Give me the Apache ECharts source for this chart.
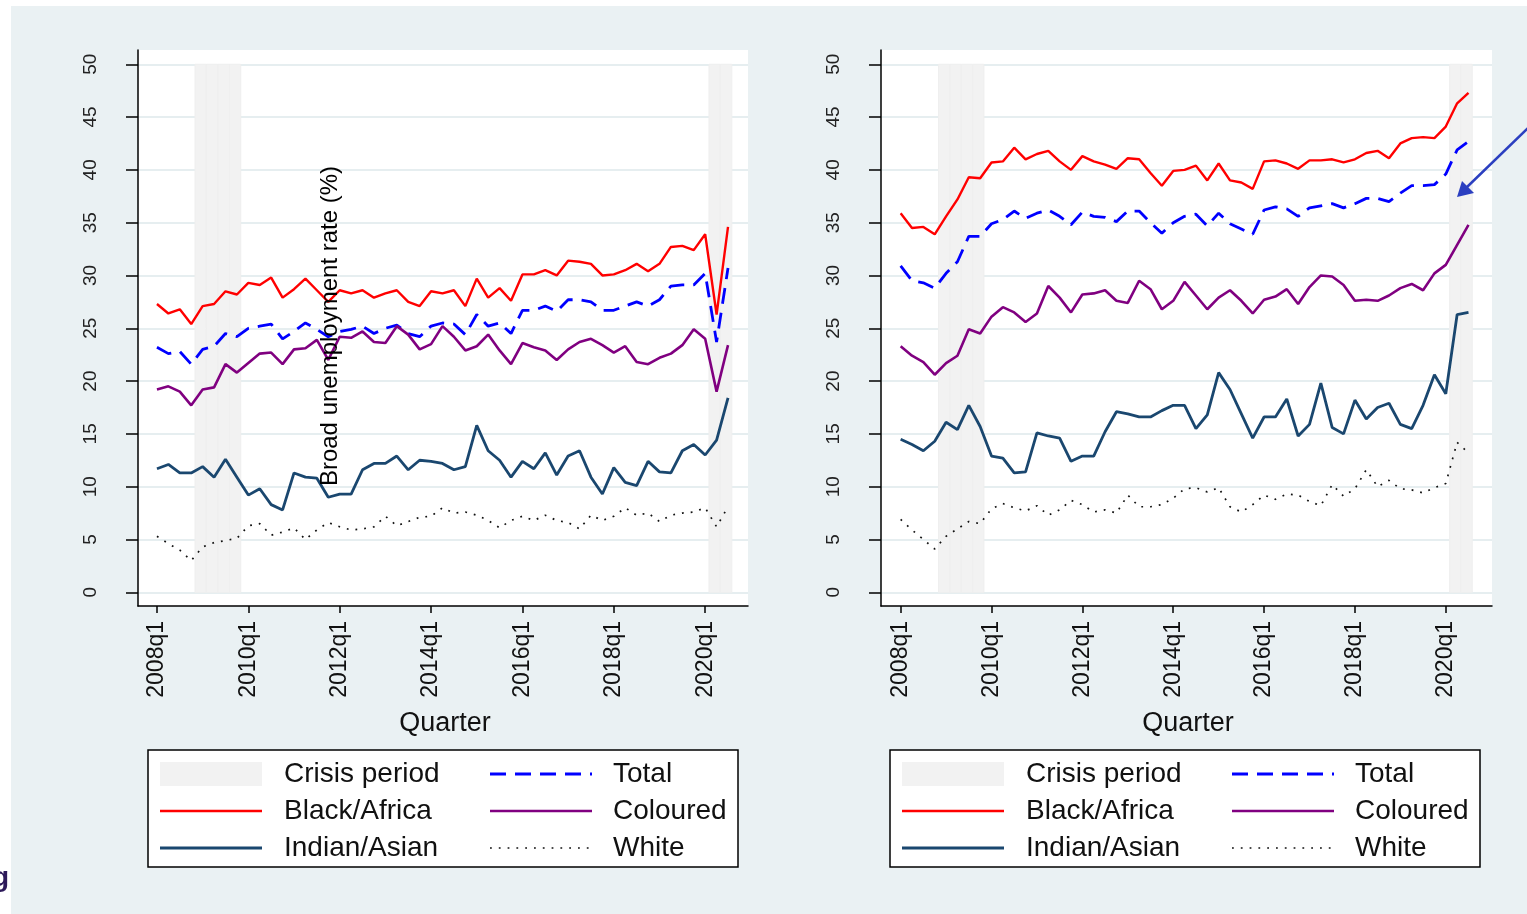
<!DOCTYPE html>
<html>
<head>
<meta charset="utf-8">
<script src="https://cdn.jsdelivr.net/npm/echarts@6/dist/echarts.min.js"></script>
<style>
  html, body { margin: 0; padding: 0; background: #fff; }
  #chart { width: 1527px; height: 914px; }
</style>
</head>
<body>
<div id="chart"></div>
<script>
// quarters 2008q1 .. 2020q3
var quarters = [];
for (var yr = 2008; yr <= 2020; yr++) {
    for (var q = 1; q <= 4; q++) quarters.push(yr + 'q' + q);
}
quarters = quarters.slice(0, 51);

var xTickIdx = [0, 8, 16, 24, 32, 40, 48];
var yTicks = [0, 5, 10, 15, 20, 25, 30, 35, 40, 45, 50];
var crisisQuarters = [3, 4, 5, 6, 48, 49];

// left panel
var blackL = [27.3,26.4,26.8,25.4,27.1,27.3,28.5,28.2,29.3,29.1,29.8,27.9,28.7,29.7,28.6,27.5,28.6,28.3,28.6,27.9,28.3,28.6,27.5,27.1,28.5,28.3,28.6,27.1,29.7,27.9,28.8,27.6,30.1,30.1,30.5,30.0,31.4,31.3,31.1,30.0,30.1,30.5,31.1,30.4,31.1,32.7,32.8,32.4,33.9,26.3,34.6];
var totalL = [23.2,22.6,22.8,21.6,23.0,23.3,24.5,24.2,25.0,25.2,25.4,24.0,24.7,25.5,24.9,24.2,24.7,24.9,25.2,24.5,25.0,25.3,24.5,24.2,25.2,25.5,25.4,24.4,26.3,25.2,25.5,24.5,26.7,26.7,27.1,26.6,27.7,27.7,27.5,26.7,26.7,27.1,27.5,27.1,27.7,29.0,29.1,29.1,30.2,23.7,30.7];
var colouredL = [19.2,19.5,19.0,17.7,19.2,19.4,21.6,20.8,21.7,22.6,22.7,21.6,23.0,23.1,23.9,22.0,24.2,24.1,24.7,23.7,23.6,25.2,24.4,23.0,23.5,25.2,24.2,22.9,23.3,24.4,22.9,21.6,23.6,23.2,22.9,22.0,23.0,23.7,24.0,23.4,22.7,23.3,21.8,21.6,22.2,22.6,23.4,24.9,24.0,19.0,23.4];
var indianL = [11.7,12.1,11.3,11.3,11.9,10.9,12.6,10.9,9.2,9.8,8.3,7.8,11.3,10.9,10.8,9.0,9.3,9.3,11.6,12.2,12.2,12.9,11.6,12.5,12.4,12.2,11.6,11.9,15.8,13.4,12.5,10.9,12.4,11.7,13.2,11.1,12.9,13.4,10.9,9.3,11.8,10.4,10.1,12.4,11.4,11.3,13.4,14.0,13.0,14.4,18.4];
var whiteL = [5.3,4.6,4.0,3.0,4.3,4.7,4.9,5.1,6.3,6.5,5.4,5.7,6.1,5.0,5.9,6.6,6.2,5.9,6.0,6.2,7.2,6.3,6.7,7.1,7.2,8.0,7.5,7.6,7.3,6.8,6.1,6.8,7.2,6.8,7.3,6.8,6.6,6.0,7.3,6.8,7.2,8.0,7.3,7.5,6.7,7.3,7.5,7.6,8.0,6.2,8.1];

// right panel
var blackR = [35.9,34.5,34.6,33.9,35.6,37.2,39.3,39.2,40.7,40.8,42.1,41.0,41.5,41.8,40.8,40.0,41.3,40.8,40.5,40.1,41.1,41.0,39.7,38.5,39.9,40.0,40.4,39.0,40.6,39.0,38.8,38.2,40.8,40.9,40.6,40.1,40.9,40.9,41.0,40.7,41.0,41.6,41.8,41.1,42.5,43.0,43.1,43.0,44.1,46.3,47.3];
var totalR = [30.9,29.5,29.3,28.8,30.2,31.3,33.7,33.7,34.9,35.3,36.1,35.4,35.9,36.2,35.6,34.8,36.0,35.6,35.5,35.1,36.1,36.1,35.0,34.0,35.0,35.6,35.8,34.7,35.9,34.9,34.4,33.9,36.2,36.5,36.3,35.6,36.4,36.6,36.8,36.4,36.8,37.3,37.3,37.0,37.8,38.5,38.5,38.6,39.6,41.9,42.7];
var colouredR = [23.3,22.4,21.8,20.6,21.7,22.4,24.9,24.5,26.1,27.0,26.5,25.6,26.4,29.0,27.9,26.5,28.2,28.3,28.6,27.6,27.4,29.5,28.7,26.8,27.6,29.4,28.1,26.8,27.9,28.6,27.6,26.4,27.7,28.0,28.7,27.3,28.9,30.0,29.9,29.1,27.6,27.7,27.6,28.1,28.8,29.2,28.6,30.2,31.0,32.9,34.8];
var indianR = [14.5,14.0,13.4,14.3,16.1,15.4,17.7,15.7,12.9,12.7,11.3,11.4,15.1,14.8,14.6,12.4,12.9,12.9,15.2,17.1,16.9,16.6,16.6,17.2,17.7,17.7,15.5,16.8,20.8,19.2,16.9,14.6,16.6,16.6,18.3,14.8,15.9,19.8,15.6,15.0,18.2,16.4,17.5,17.9,15.9,15.5,17.7,20.6,18.8,26.3,26.5];
var whiteR = [6.9,5.9,5.0,4.1,5.3,6.0,6.7,6.5,7.9,8.4,8.0,7.7,8.2,7.3,7.8,8.7,8.3,7.6,7.8,7.5,9.2,8.1,8.1,8.3,8.9,9.8,9.9,9.5,9.9,8.1,7.6,8.3,9.2,8.8,9.3,9.2,8.6,8.2,10.2,9.1,9.8,11.6,10.0,10.6,9.8,9.7,9.4,9.9,10.3,14.2,13.2];

var chart = echarts.init(document.getElementById('chart'));

function pairs(arr) {
    return arr.map(function (v, i) { return [i, v]; });
}

var FONT = 'Liberation Sans, Arial, sans-serif';
var styles = [
    {name: 'Black/Africa', color: '#ff0000', type: 'solid', width: 2.4},
    {name: 'Total', color: '#0000ff', type: [16, 9], width: 2.8},
    {name: 'Coloured', color: '#800080', type: 'solid', width: 2.6},
    {name: 'Indian/Asian', color: '#1a476f', type: 'solid', width: 2.8},
    {name: 'White', color: '#111', type: [1.8, 7], width: 1.7}
];

function xAxisFor(idx, min, max) {
    return {
        type: 'value', gridIndex: idx, min: min, max: max,
        axisLine: {show: true, onZero: false, lineStyle: {color: '#000', width: 1.5}},
        axisTick: {show: true, customValues: xTickIdx, length: 7, lineStyle: {color: '#000', width: 1.5}},
        axisLabel: {
            customValues: xTickIdx, rotate: 90, margin: 15, fontSize: 23, color: '#111', fontFamily: FONT,
            formatter: function (v) { return quarters[v]; }
        },
        splitLine: {show: false}
    };
}

function yAxisFor(idx) {
    return {
        type: 'value', gridIndex: idx, min: -1.3, max: 51.35,
        axisLine: {show: true, onZero: false, lineStyle: {color: '#000', width: 1.5}},
        axisTick: {show: true, customValues: yTicks, length: 12, lineStyle: {color: '#000', width: 1.5}},
        axisLabel: {customValues: yTicks, rotate: 90, margin: 38, fontSize: 19, color: '#222', fontFamily: FONT},
        splitLine: {show: true, lineStyle: {color: '#e6eef0', width: 2}}
    };
}

function crisisSeries(idx) {
    return {
        type: 'custom', xAxisIndex: idx, yAxisIndex: idx, z: 1, silent: true,
        data: crisisQuarters,
        renderItem: function (params, api) {
            var q = api.value(0);
            var p0 = api.coord([q + 1 / 3, 50]);
            var p1 = api.coord([q + 4 / 3, 0]);
            return {
                type: 'rect',
                shape: {x: p0[0], y: p0[1], width: p1[0] - p0[0], height: p1[1] - p0[1]},
                style: {fill: '#f2f2f2', stroke: '#efefef', lineWidth: 1}
            };
        },
        encode: {x: 0}
    };
}

function lineSeries(idx, arrs) {
    return arrs.map(function (arr, k) {
        var s = styles[k];
        return {
            name: s.name, type: 'line', xAxisIndex: idx, yAxisIndex: idx,
            data: pairs(arr), symbol: 'none', z: 3 + k,
            lineStyle: {color: s.color, type: s.type, width: s.width}
        };
    });
}

// legend boxes
function legendBox(x0) {
    var els = [{
        type: 'rect', shape: {x: x0, y: 750, width: 590, height: 117},
        style: {fill: '#fff', stroke: '#000', lineWidth: 1.5}
    }, {
        type: 'rect', shape: {x: x0 + 12, y: 762, width: 102, height: 24},
        style: {fill: '#f2f2f2'}
    }];
    var items = [
        [0, 0, 'Crisis period', null],
        [1, 0, 'Total', styles[1]],
        [0, 1, 'Black/Africa', styles[0]],
        [1, 1, 'Coloured', styles[2]],
        [0, 2, 'Indian/Asian', styles[3]],
        [1, 2, 'White', styles[4]]
    ];
    items.forEach(function (it) {
        var sx = it[0] === 0 ? x0 + 12 : x0 + 342;
        var tx = it[0] === 0 ? x0 + 136 : x0 + 465;
        var cy = 774 + it[1] * 37;
        if (it[3]) {
            els.push({
                type: 'line', shape: {x1: sx, y1: cy, x2: sx + 102, y2: cy},
                style: {stroke: it[3].color, lineWidth: it[3].width, lineDash: it[3].type === 'solid' ? null : it[3].type}
            });
        }
        els.push({
            type: 'text', x: tx, y: cy,
            style: {text: it[2], fontSize: 28, fontFamily: FONT, fill: '#111', textVerticalAlign: 'middle'}
        });
    });
    return els;
}

var graphics = [
    {type: 'rect', z: -10, shape: {x: 11, y: 6, width: 1516, height: 908}, style: {fill: '#eaf1f3'}},
    {type: 'text', x: 445, y: 724, style: {text: 'Quarter', fontSize: 27, fontFamily: FONT, fill: '#111', textAlign: 'center', textVerticalAlign: 'middle'}},
    {type: 'text', x: 1188, y: 724, style: {text: 'Quarter', fontSize: 27, fontFamily: FONT, fill: '#111', textAlign: 'center', textVerticalAlign: 'middle'}},
    {type: 'text', z: 100, x: 330, y: 326, rotation: Math.PI / 2,
        style: {text: 'Broad unemployment rate (%)', fontSize: 24, fontFamily: FONT, fill: '#000', textAlign: 'center', textVerticalAlign: 'middle'}},
    {type: 'line', z: 100, shape: {x1: 1528, y1: 128, x2: 1466, y2: 188}, style: {stroke: '#2b3fc0', lineWidth: 2.5}},
    {type: 'polygon', z: 100, shape: {points: [[1457, 197], [1462, 181], [1474, 193]]}, style: {fill: '#2b3fc0'}},
    {type: 'text', x: 9, y: 878, style: {text: 'g', fontSize: 28, fontWeight: 'bold', fontFamily: FONT, fill: '#2d1a5a', textAlign: 'right', textVerticalAlign: 'middle'}}
].concat(legendBox(148)).concat(legendBox(890));

var option = {
    animation: false,
    backgroundColor: '#fff',
    graphic: graphics,
    grid: [
        {left: 138, top: 50, width: 610, height: 556, show: true, backgroundColor: '#fff', borderWidth: 0, outerBoundsMode: 'none'},
        {left: 881, top: 50, width: 611, height: 556, show: true, backgroundColor: '#fff', borderWidth: 0, outerBoundsMode: 'none'}
    ],
    xAxis: [
        xAxisFor(0, -1.66, 51.75),
        xAxisFor(1, -1.73, 52.07)
    ],
    yAxis: [yAxisFor(0), yAxisFor(1)],
    series: [crisisSeries(0), crisisSeries(1)]
        .concat(lineSeries(0, [blackL, totalL, colouredL, indianL, whiteL]))
        .concat(lineSeries(1, [blackR, totalR, colouredR, indianR, whiteR]))
};

chart.setOption(option);
</script>
</body>
</html>
